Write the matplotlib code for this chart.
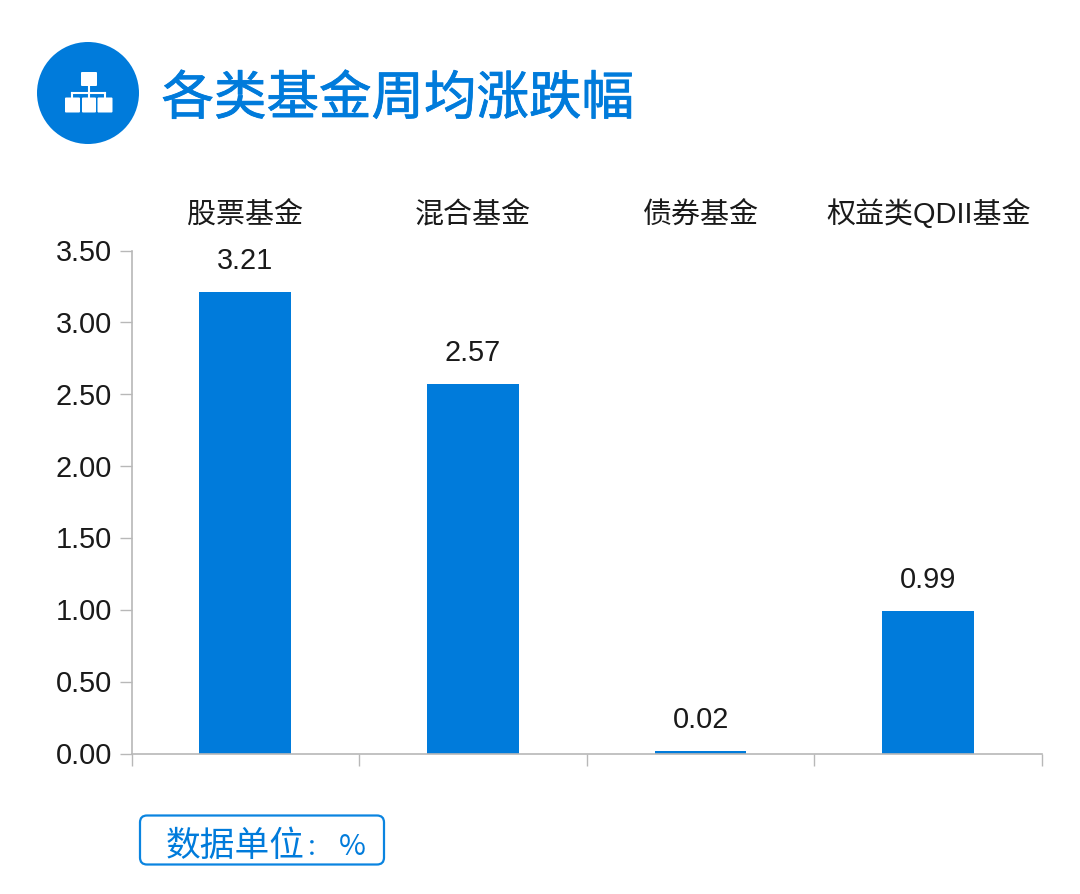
import matplotlib
matplotlib.use("Agg")
import matplotlib.pyplot as plt
import matplotlib.patheffects as pe
from matplotlib.patches import Circle, FancyBboxPatch
from matplotlib.transforms import ScaledTranslation

plt.rcParams['font.family'] = ['Liberation Sans', 'Noto Sans CJK SC', 'DejaVu Sans']

categories = ["股票基金", "混合基金", "债券基金", "权益类QDII基金"]
values = [3.21, 2.57, 0.02, 0.99]
y_ticks = [0, 0.5, 1, 1.5, 2, 2.5, 3, 3.5]
title = "各类基金周均涨跌幅"
unit = "数据单位：%"

BLUE = "#007bdb"
GREY = "#b8b8b8"
CJK = ['Noto Sans CJK SC', 'DejaVu Sans']
W, H = 1080, 895

fig = plt.figure(figsize=(W / 100, H / 100), dpi=100)

# overlay in pixel coords for the header and the unit box
bg = fig.add_axes([0, 0, 1, 1])
bg.set_xlim(0, W)
bg.set_ylim(H, 0)
bg.axis("off")

bg.add_patch(Circle((88, 94), 51, color=BLUE, lw=0))
# little org chart icon
for x0, y0, w in [(81, 73, 16), (65, 98.5, 15), (82, 98.5, 14), (97.5, 98.5, 15)]:
    h = 14 if y0 < 90 else 15
    bg.add_patch(FancyBboxPatch((x0, y0), w, h, boxstyle="round,pad=0,rounding_size=1",
                                fc="white", ec="none", lw=0))
bg.plot([89, 89], [87, 98], color="white", lw=1.5)
bg.plot([72, 105], [93.5, 93.5], color="white", lw=1.5)
bg.plot([72, 72], [93.5, 98], color="white", lw=1.5)
bg.plot([105, 105], [93.5, 98], color="white", lw=1.5)

t = bg.text(161.5, 100.5, title, fontsize=37.8, color=BLUE, va="center", ha="left", family=CJK)
t.set_path_effects([pe.withStroke(linewidth=0.6, foreground=BLUE)])

bg.add_patch(FancyBboxPatch((140, 816.5), 244, 49, boxstyle="round,pad=0,rounding_size=7",
                            fc="white", ec="#0a84e0", lw=1.6))
bg.text(166, 847, unit[:4], fontsize=25, color=BLUE, va="center", ha="left", family=CJK)
bg.text(306, 849, unit[4], fontsize=17, color=BLUE, va="center", ha="left", family=CJK)
bg.text(339, 847, unit[5], fontsize=21, color=BLUE, va="center", ha="left", family=CJK)

# chart area 131.5..1042 x, 251.5..754.5 y
ax = fig.add_axes([131.5 / W, 1 - 754.5 / H, (1042 - 131.5) / W, (754.5 - 251.5) / H])
ax.patch.set_alpha(0)
xs = list(range(len(categories)))
ax.bar(xs, values, width=0.403, color=BLUE)
ax.set_xlim(-0.5, 3.5)
ax.set_ylim(0, 3.5)

for s in ["top", "right"]:
    ax.spines[s].set_visible(False)
for s in ["left", "bottom"]:
    ax.spines[s].set_color(GREY)
    ax.spines[s].set_linewidth(1.2)

ax.set_yticks(y_ticks)
ax.set_yticklabels(["%.2f" % t for t in y_ticks])
ax.tick_params(axis="y", labelsize=20.8, length=8.6, width=1.0, color=GREY, labelcolor="#1a1a1a", pad=5.5)
# tick labels sit a bit higher than the ticks
for lbl in ax.get_yticklabels():
    lbl.set_transform(lbl.get_transform() + ScaledTranslation(0, 0.015, fig.dpi_scale_trans))
ax.set_xticks([-0.5, 0.5, 1.5, 2.5, 3.5])
ax.set_xticklabels([])
ax.tick_params(axis="x", length=8.6, width=1.0, color=GREY)

for x, v in zip(xs, values):
    ax.annotate("%.2f" % v, (x, v), xytext=(0, 13), textcoords="offset points",
                ha="center", va="bottom", fontsize=20.8, color="#1a1a1a")

top = ax.secondary_xaxis("top")
top.set_xticks(xs)
top.set_xticklabels(categories, fontsize=20.9, color="#1a1a1a")
top.tick_params(length=0, pad=16)
top.spines["top"].set_visible(False)

fig.savefig("out.png", dpi=100)
